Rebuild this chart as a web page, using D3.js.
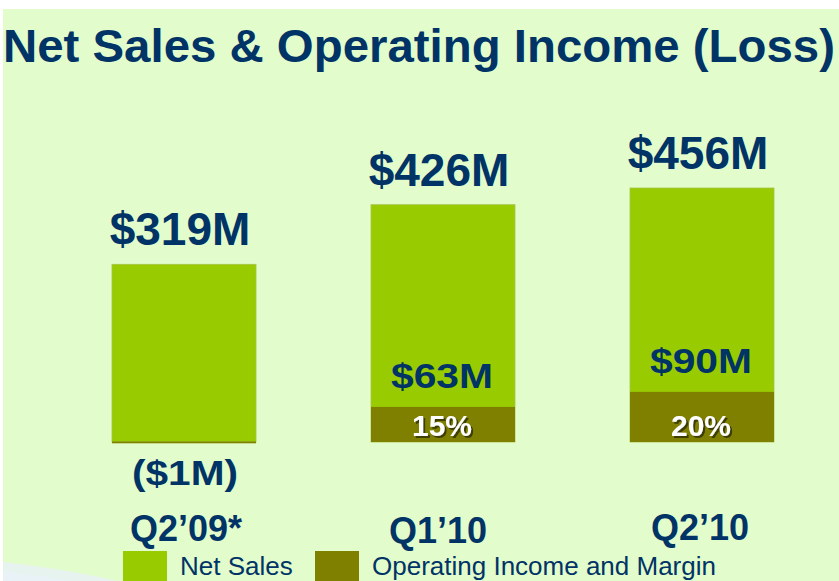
<!DOCTYPE html>
<html>
<head>
<meta charset="utf-8">
<script src="https://cdn.jsdelivr.net/npm/d3@7"></script>
<style>
  html, body { margin: 0; padding: 0; background: #ffffff; }
  svg { display: block; }
  text { font-family: "Liberation Sans", Arial, Helvetica, sans-serif; }
</style>
</head>
<body>
<svg id="chart" width="839" height="581"></svg>
<script>
// ---- data ----
const title = "Net Sales & Operating Income (Loss)";
const categories = ["Q2’09*", "Q1’10", "Q2’10"];
const netSales = [319, 426, 456];
const opIncome = [-1, 63, 90];
const netSalesLabels = ["$319M", "$426M", "$456M"];
const opIncomeLabels = ["($1M)", "$63M", "$90M"];
const marginLabels = ["", "15%", "20%"];
const legendLabels = ["Net Sales", "Operating Income and Margin"];

// ---- styles ----
const W = 839, H = 581;
const bgColor = "#e3fccb";
const salesColor = "#99cc00";
const opColor = "#808000";
const navy = "#003366";

const svg = d3.select("#chart");

const defs = svg.append("defs");
const f = defs.append("filter").attr("id", "shadow").attr("x", "-20%").attr("y", "-20%").attr("width", "140%").attr("height", "140%");
f.append("feDropShadow").attr("dx", 2).attr("dy", 2).attr("stdDeviation", 0.6)
  .attr("flood-color", "#303000").attr("flood-opacity", 0.85);

// background
svg.append("rect").attr("x", 0).attr("y", 0).attr("width", W).attr("height", H).attr("fill", "#ffffff");
svg.append("rect").attr("x", 3).attr("y", 9).attr("width", W - 3).attr("height", H - 9).attr("fill", bgColor);
// faint swoosh bottom-left
svg.append("path")
  .attr("d", "M3,562 Q60,568 118,581 L3,581 Z")
  .attr("fill", "#e6f3ee");
svg.append("path")
  .attr("d", "M3,572 Q40,575 70,581 L3,581 Z")
  .attr("fill", "#e9f2f6");

// title
svg.append("text")
  .attr("x", 3).attr("y", 62)
  .attr("font-size", 47).attr("font-weight", "bold")
  .attr("fill", navy)
  .attr("textLength", 832).attr("lengthAdjust", "spacingAndGlyphs")
  .text(title);

// scales
const x = d3.scalePoint().domain(categories).range([184, 702]);
const barW = 144;
const y = d3.scaleLinear().domain([0, 456]).range([442, 188]);

// net sales bars
svg.selectAll(".sales").data(categories).join("rect")
  .attr("class", "sales")
  .attr("x", d => x(d) - barW / 2)
  .attr("width", barW)
  .attr("y", (d, i) => y(netSales[i]))
  .attr("height", (d, i) => y(0) - y(netSales[i]))
  .attr("fill", salesColor)
  .attr("stroke", "#a8c24a").attr("stroke-width", 0.8);

// operating income bars
svg.selectAll(".op").data(categories).join("rect")
  .attr("class", "op")
  .attr("x", d => x(d) - barW / 2)
  .attr("width", barW)
  .attr("y", (d, i) => opIncome[i] >= 0 ? y(opIncome[i]) : y(0) - 0.5)
  .attr("height", (d, i) => Math.max(Math.abs(y(0) - y(opIncome[i])), 1.8))
  .attr("fill", opColor);

// net sales value labels
svg.selectAll(".salesLbl").data(categories).join("text")
  .attr("class", "salesLbl")
  .attr("x", d => x(d) - 4)
  .attr("y", (d, i) => y(netSales[i]) - 19)
  .attr("text-anchor", "middle")
  .attr("font-size", 46).attr("font-weight", "bold")
  .attr("fill", navy)
  .text((d, i) => netSalesLabels[i]);

// operating income labels
svg.selectAll(".opLbl").data(categories).join("text")
  .attr("class", "opLbl")
  .attr("x", (d, i) => x(d) + (opIncome[i] < 0 ? 1 : -1))
  .attr("y", (d, i) => opIncome[i] < 0 ? y(0) + 43 : y(opIncome[i]) - 19)
  .attr("text-anchor", "middle")
  .attr("font-size", 35).attr("font-weight", "bold")
  .attr("fill", navy)
  .attr("textLength", (d, i) => opIncome[i] < 0 ? 106 : 102)
  .attr("lengthAdjust", "spacingAndGlyphs")
  .text((d, i) => opIncomeLabels[i]);

// margin labels with shadow
svg.selectAll(".margin").data(categories.filter((d, i) => marginLabels[i])).join("text")
  .attr("class", "margin")
  .attr("x", d => x(d) - 1)
  .attr("y", 436)
  .attr("text-anchor", "middle")
  .attr("font-size", 30).attr("font-weight", "bold")
  .attr("fill", "#ffffff")
  .attr("filter", "url(#shadow)")
  .text(d => marginLabels[categories.indexOf(d)]);

// category labels
const catDx = [2, -5, -2];
const catDy = [541, 543, 540];
svg.selectAll(".cat").data(categories).join("text")
  .attr("class", "cat")
  .attr("x", (d, i) => x(d) + catDx[i])
  .attr("y", (d, i) => catDy[i])
  .attr("text-anchor", "middle")
  .attr("font-size", 36).attr("font-weight", "bold")
  .attr("fill", navy)
  .text(d => d);

// legend
const legendX = [123, 315];
const legendColors = [salesColor, opColor];
const lg = svg.selectAll(".lg").data(legendLabels).join("g").attr("class", "lg");
lg.append("rect")
  .attr("x", (d, i) => legendX[i]).attr("y", 551)
  .attr("width", 44).attr("height", 32)
  .attr("fill", (d, i) => legendColors[i]);
lg.append("text")
  .attr("x", (d, i) => legendX[i] + 57).attr("y", 575)
  .attr("font-size", 26)
  .attr("fill", navy)
  .text(d => d);
</script>
</body>
</html>
